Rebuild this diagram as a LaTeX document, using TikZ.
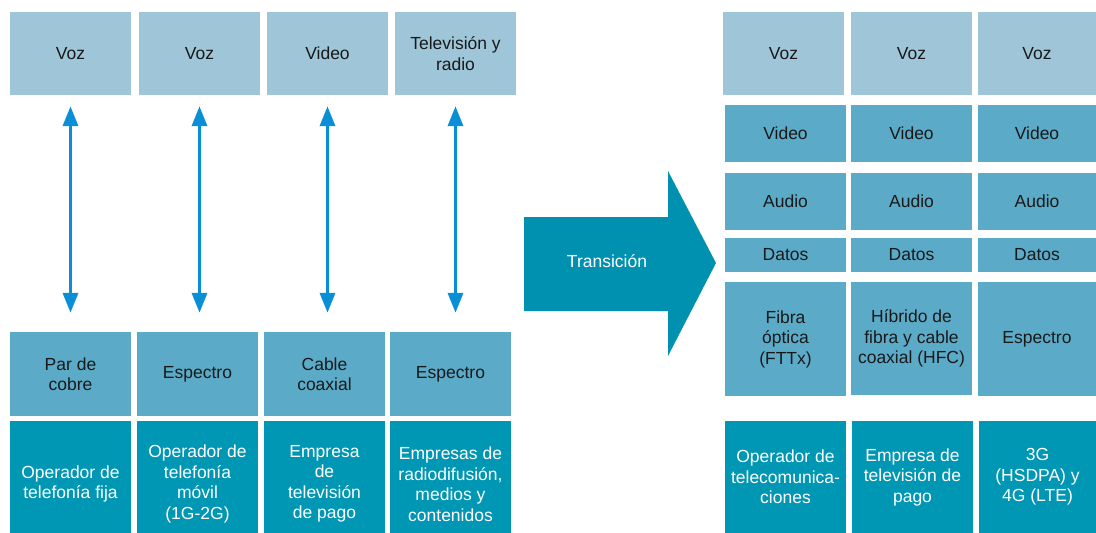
\documentclass[tikz,border=0pt]{standalone}
\usepackage{fontspec}
\setmainfont{Liberation Sans}
\definecolor{boxLight}{HTML}{9EC6D8}
\definecolor{boxMid}{HTML}{5BABC8}
\definecolor{boxDark}{HTML}{0097B5}
\definecolor{linkBlue}{HTML}{0A8FD6}
\definecolor{transTeal}{HTML}{0090B0}
\usetikzlibrary{arrows.meta,positioning,calc}

\tikzset{
  cell/.style={rectangle, inner sep=0pt, align=center,
               font=\fontsize{17.5}{20.5}\selectfont, text=black!90},
  lightcell/.style={cell, fill=boxLight},
  midcell/.style={cell, fill=boxMid},
  darkcell/.style={cell, fill=boxDark, text=white},
  linkarrow/.style={draw=linkBlue, line width=3.5pt,
                    {Triangle[length=20pt,width=15pt]}-{Triangle[length=20pt,width=15pt]}}
}

\begin{document}
\begin{tikzpicture}[x=1pt, y=-1pt]
    \useasboundingbox (0,0) rectangle (1096,533);
    \clip (0,0) rectangle (1096,533);

    % left: services
    \node[lightcell, minimum width=121pt, minimum height=83pt] (lt1) at (70.5,53.5) {Voz};
    \node[lightcell, minimum width=121pt, minimum height=83pt] (lt2) at (199.5,53.5) {Voz};
    \node[lightcell, minimum width=121pt, minimum height=83pt] (lt3) at (327.5,53.5) {Video};
    \node[lightcell, minimum width=121pt, minimum height=83pt] (lt4) at (455.5,53.5) {Televisión y\\radio};

    % left: media
    \node[midcell, minimum width=121pt, minimum height=84pt] (lm1) at (70.5,374) {Par de\\cobre};
    \node[midcell, minimum width=121pt, minimum height=84pt] (lm2) at (197.5,374) {Espectro};
    \node[midcell, minimum width=121pt, minimum height=84pt] (lm3) at (324.5,374) {Cable\\coaxial};
    \node[midcell, minimum width=121pt, minimum height=84pt] (lm4) at (450.5,374) {Espectro};

    % left: operators
    \node[darkcell, minimum width=121pt, minimum height=126pt] (lb1) at (70.5,484) {Operador de\\telefonía fija};
    \node[darkcell, minimum width=121pt, minimum height=126pt] (lb2) at (197.5,484) {Operador de\\telefonía\\móvil\\(1G-2G)};
    \node[darkcell, minimum width=121pt, minimum height=126pt] (lb3) at (324.5,484) {Empresa\\de\\televisión\\de pago};
    \node[darkcell, minimum width=121pt, minimum height=126pt] (lb4) at (450.5,484) {Empresas de\\radiodifusión,\\medios y\\contenidos};

    \draw[linkarrow, shorten <=11pt, shorten >=19pt] (lt1.south) -- (lt1.south |- lm1.north);
    \draw[linkarrow, shorten <=11pt, shorten >=19pt] (lt2.south) -- (lt2.south |- lm2.north);
    \draw[linkarrow, shorten <=11pt, shorten >=19pt] (lt3.south) -- (lt3.south |- lm3.north);
    \draw[linkarrow, shorten <=11pt, shorten >=19pt] (lt4.south) -- (lt4.south |- lm4.north);

    % transition arrow
    \fill[transTeal] (524,217) -- (668,217) -- (668,171) -- (716,263)
        -- (668,356) -- (668,311) -- (524,311) -- cycle;
    \node[cell, text=white] (trans) at (607,261) {Transición};

    % right: services
    \node[lightcell, minimum width=121pt, minimum height=83pt] (rv1) at (783.5,53.5) {Voz};
    \node[lightcell, minimum width=121pt, minimum height=83pt] (rv2) at (911.5,53.5) {Voz};
    \node[lightcell, minimum width=118pt, minimum height=83pt] (rv3) at (1037,53.5) {Voz};

    \node[midcell, minimum width=121pt, minimum height=57pt] (rvi1) at (785.5,133.5) {Video};
    \node[midcell, minimum width=121pt, minimum height=57pt] (rvi2) at (911.5,133.5) {Video};
    \node[midcell, minimum width=118pt, minimum height=57pt] (rvi3) at (1037,133.5) {Video};

    \node[midcell, minimum width=121pt, minimum height=57pt] (rau1) at (785.5,201.5) {Audio};
    \node[midcell, minimum width=121pt, minimum height=57pt] (rau2) at (911.5,201.5) {Audio};
    \node[midcell, minimum width=118pt, minimum height=57pt] (rau3) at (1037,201.5) {Audio};

    \node[midcell, minimum width=121pt, minimum height=34pt] (rda1) at (785.5,255) {Datos};
    \node[midcell, minimum width=121pt, minimum height=34pt] (rda2) at (911.5,255) {Datos};
    \node[midcell, minimum width=118pt, minimum height=34pt] (rda3) at (1037,255) {Datos};

    % right: media
    \node[midcell, minimum width=121pt, minimum height=114pt] (rm1) at (785.5,339) {Fibra\\óptica\\(FTTx)};
    \node[midcell, minimum width=121pt, minimum height=113pt] (rm2) at (911.5,338.5) {Híbrido de\\fibra y cable\\coaxial (HFC)};
    \node[midcell, minimum width=118pt, minimum height=114pt] (rm3) at (1037,339) {Espectro};

    % right: operators
    \node[darkcell, minimum width=121pt, minimum height=112pt] (rb1) at (785.5,477) {Operador de\\telecomunica-\\ciones};
    \node[darkcell, minimum width=121pt, minimum height=112pt] (rb2) at (912.5,477) {Empresa de\\televisión de\\pago};
    \node[darkcell, minimum width=117pt, minimum height=112pt] (rb3) at (1037.5,477) {3G\\(HSDPA) y\\4G (LTE)};
\end{tikzpicture}
\end{document}
